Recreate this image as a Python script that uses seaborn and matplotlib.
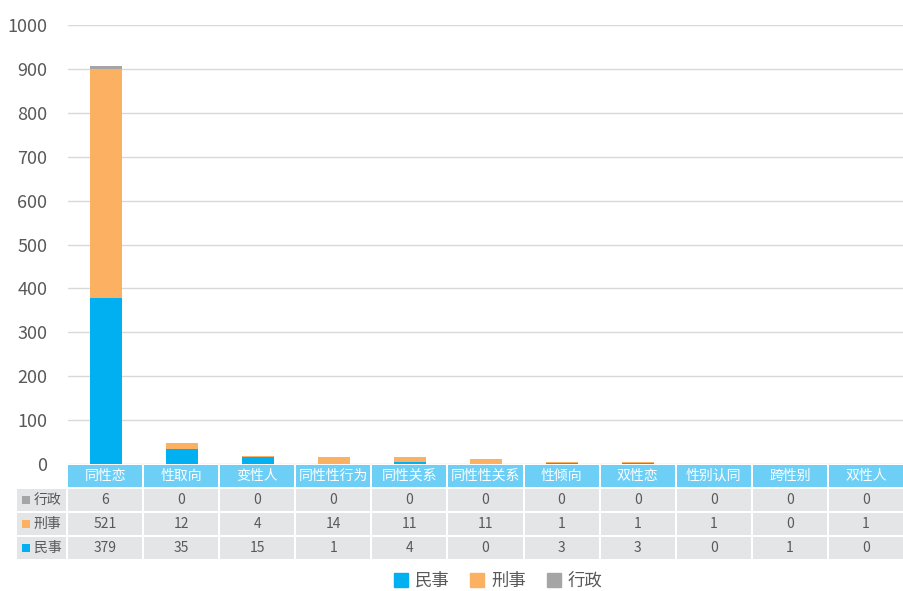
import matplotlib.pyplot as plt
import seaborn as sns
from matplotlib.patches import Rectangle

categories = ["同性恋", "性取向", "变性人", "同性性行为", "同性关系", "同性性关系",
              "性倾向", "双性恋", "性别认同", "跨性别", "双性人"]
civil = [379, 35, 15, 1, 4, 0, 3, 3, 0, 1, 0]          # 民事
criminal = [521, 12, 4, 14, 11, 11, 1, 1, 1, 0, 1]     # 刑事
admin = [6, 0, 0, 0, 0, 0, 0, 0, 0, 0, 0]              # 行政
series_names = ["民事", "刑事", "行政"]
colors = ["#00B0F0", "#FBB062", "#A5A5A5"]

sns.set_style("white")
plt.rcParams['font.family'] = ['Noto Sans CJK SC', 'DejaVu Sans']

W, H = 904, 591
fig = plt.figure(figsize=(W / 100, H / 100), dpi=100)

# main bar axes: x 68..904 px, y 25..464 px
ax = fig.add_axes([68 / W, 1 - 464 / H, 836 / W, 439 / H])
bottom2 = [a + b for a, b in zip(civil, criminal)]
bar_kw = dict(saturation=1, width=0.41, ax=ax, linewidth=0, edgecolor="none")
sns.barplot(x=categories, y=civil, color=colors[0], label=series_names[0], **bar_kw)
sns.barplot(x=categories, y=criminal, bottom=civil, color=colors[1], label=series_names[1], **bar_kw)
sns.barplot(x=categories, y=admin, bottom=bottom2, color=colors[2], label=series_names[2], **bar_kw)

ax.set_ylim(0, 1000)
ax.set_xlim(-0.5, len(categories) - 0.5)
ax.set_yticks(range(0, 1001, 100))
ax.yaxis.grid(True, color="#D9D9D9", linewidth=1)
ax.set_axisbelow(True)
for s in ax.spines.values():
    s.set_visible(False)
ax.set_xticks([])
ax.tick_params(axis="y", labelsize=13, labelcolor="#595959", length=0, pad=15)
ax.set_xlabel("")
ax.set_ylabel("")
if ax.get_legend():
    ax.get_legend().remove()

# data table below: x 17..904 px, y 465..559 px
lab_w = 50 / 76
tx = fig.add_axes([17 / W, 1 - 559 / H, 887 / W, 94 / H])
tx.set_xlim(-0.5 - lab_w, len(categories) - 0.5)
tx.set_ylim(94, 0)
tx.axis("off")

gx = 2 / 76
header_bg = "#6DCFF6"
cell_bg = "#E4E5E7"
rows = [("行政", admin, colors[2]), ("刑事", criminal, colors[1]), ("民事", civil, colors[0])]
row_tops = [24, 48, 72]
rh = 22

for i, cat in enumerate(categories):
    tx.add_patch(Rectangle((i - 0.5 + gx / 2, 0), 1 - gx, rh, color=header_bg, lw=0))
    tx.text(i, rh / 2, cat, ha="center", va="center", color="white", fontsize=10)
    for (name, vals, c), top in zip(rows, row_tops):
        tx.add_patch(Rectangle((i - 0.5 + gx / 2, top), 1 - gx, rh, color=cell_bg, lw=0))
        tx.text(i, top + rh / 2, str(vals[i]), ha="center", va="center", color="#595959", fontsize=10)

for (name, vals, c), top in zip(rows, row_tops):
    x0 = -0.5 - lab_w
    tx.add_patch(Rectangle((x0, top), lab_w - gx / 2, rh, color=cell_bg, lw=0))
    tx.add_patch(Rectangle((x0 + 5 / 76, top + 7), 8 / 76, 8, color=c, lw=0))
    tx.text(x0 + 17 / 76, top + rh / 2, name, ha="left", va="center", color="#595959", fontsize=10)

# legend
handles = [Rectangle((0, 0), 1, 1, color=c) for c in colors]
fig.legend(handles, series_names, loc="center", bbox_to_anchor=(498 / W, 1 - 581 / H),
           ncol=3, frameon=False, fontsize=12.5, handlelength=0.8, handleheight=0.8,
           handletextpad=0.4, columnspacing=1.2, labelcolor="#595959",
           borderpad=0.2)

fig.savefig("out.png", dpi=100)
